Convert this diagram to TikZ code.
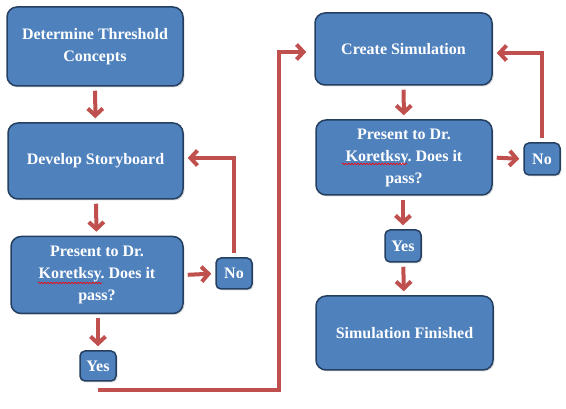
\documentclass[tikz,border=0pt]{standalone}
\usepackage{fontspec}
\setmainfont{Liberation Serif}
\frenchspacing
\usetikzlibrary{arrows.meta,shadows,decorations.pathmorphing}
\definecolor{boxblue}{HTML}{4F81BD}
\definecolor{boxedge}{HTML}{243F60}
\definecolor{arrred}{HTML}{C0504D}
\tikzset{
  flowbox/.style={draw=boxedge, line width=1.5pt, fill=boxblue, rounded corners=10pt,
    text=white, font=\fontsize{16}{22}\selectfont\bfseries, align=center,
    inner sep=2pt, drop shadow={shadow xshift=1.5pt, shadow yshift=-1.5pt, opacity=0.25}},
  smallbox/.style={flowbox, rounded corners=5pt},
  conn/.style={draw=arrred, line width=4pt, -{Straight Barb[length=7pt,width=15pt]},
    shorten <=4pt, shorten >=4pt},
  squig/.style={draw=red, line width=0.6pt, decorate,
    decoration={snake, amplitude=0.8pt, segment length=3pt}}
}
\begin{document}
\begin{tikzpicture}[x=1pt, y=-1pt]
\useasboundingbox (0,0) rectangle (566,409);
\node[flowbox, minimum width=176pt, minimum height=79pt] (b1) at (95,46.5) {Determine Threshold\\Concepts};
\node[flowbox, minimum width=175pt, minimum height=76pt] (b2) at (95.5,161) {Develop Storyboard};
\node[flowbox, minimum width=172pt, minimum height=77pt] (b3) at (97,275) {Present to Dr.\\Koretksy. Does it\\pass?};
\node[smallbox, minimum width=36pt, minimum height=31pt] (no1) at (234,273.5) {No};
\node[smallbox, minimum width=36pt, minimum height=30pt] (yes1) at (98,366) {Yes};
\node[flowbox, minimum width=177pt, minimum height=72pt] (b4) at (403.5,49) {Create Simulation};
\node[flowbox, minimum width=176pt, minimum height=75pt] (b5) at (404,157.5) {Present to Dr.\\Koretksy. Does it\\pass?};
\node[smallbox, minimum width=36pt, minimum height=32pt] (no2) at (542,159) {No};
\node[smallbox, minimum width=36pt, minimum height=32pt] (yes2) at (403,246) {Yes};
\node[flowbox, minimum width=177pt, minimum height=74pt] (b6) at (404.5,333) {Simulation Finished};
\coordinate (turn) at (279,390);

\draw[conn] (b1) -- (b2);
\draw[conn] (b2) -- (b3);
\draw[conn] (b3.east) -- (no1.west);
\draw[conn] (no1.north) |- ([yshift=3pt]b2.east);
\draw[conn] (b3.south -| yes1.north) -- (yes1.north);
\draw[conn, shorten <=0pt, shorten >=8pt] (yes1.south |- turn) -- (turn) |- ([yshift=-3pt]b4.west);
\draw[conn] (b4) -- (b5);
\draw[conn] (b5.east) -- (no2.west);
\draw[conn] (no2.north) |- ([yshift=-4pt]b4.east);
\draw[conn] (b5.south -| yes2.north) -- (yes2.north);
\draw[conn] (yes2) -- (b6);

\draw[squig] (38,283) -- (102,283);
\draw[squig] (342,164) -- (407,164);
\end{tikzpicture}
\end{document}
